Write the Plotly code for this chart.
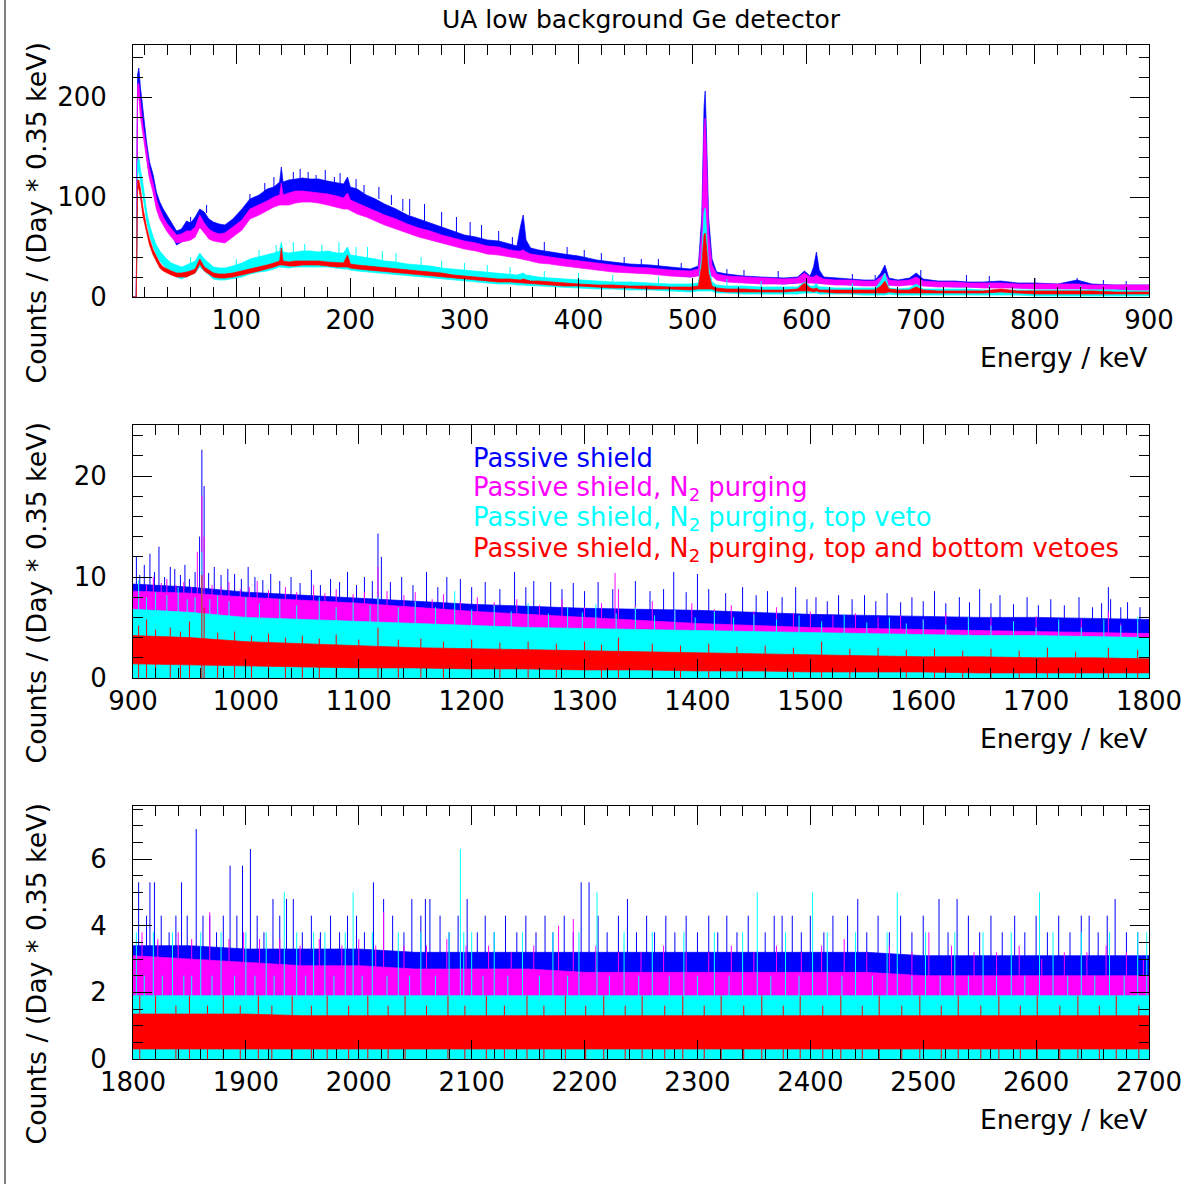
import plotly.graph_objects as go

FONT = "DejaVu Sans"
BLUE, MAGENTA, CYAN, RED = "#0000ff", "#ff00ff", "#00ffff", "#ff0000"

# ---------------- top panel (10 - 900 keV): noise band limits per series ----------------
e_top = [9.5, 12.4, 13.5, 14.6, 16, 18.4, 21.4, 24, 27.2, 30,
         33, 36, 39, 43, 47.7, 52, 56.5, 60, 64, 68,
         72, 76, 80, 85, 90, 97, 105, 112, 120, 127,
         133, 138, 139.5, 141, 146, 152, 158, 165, 172, 180,
         188, 194, 197.5, 200, 206, 214, 222, 230, 240, 250,
         260, 270, 280, 290, 300, 310, 320, 330, 340, 346,
         349, 351.5, 354, 358, 365, 375, 387, 400, 416, 430,
         445, 463, 480, 498, 505, 508, 510, 511, 512, 514,
         517, 521, 530, 545, 560, 580, 592, 598, 603, 606,
         608.5, 611, 615, 625, 638, 650, 660, 665, 668.5, 672,
         680, 690, 696, 702, 715, 730, 741, 755, 770, 785,
         800, 820, 837, 850, 870, 887, 900]

blue_top_lo = [0, 0, 205, 215, 190, 170, 140, 120, 108, 90,
               82, 75, 70, 63, 52, 55, 58, 58, 62, 70,
               65, 60, 58, 56, 57, 62, 70, 80, 85, 88,
               92, 95, 95, 95, 95, 98, 98, 98, 97, 96,
               95, 92, 92, 90, 88, 84, 80, 77, 72, 68,
               64, 60, 57, 54, 50, 48, 45, 44, 42, 41,
               41, 41, 41, 38, 36, 35, 32, 30, 28, 26,
               25, 24, 22, 20, 22, 22, 22, 22, 22, 22,
               22, 18, 16, 15, 14, 13, 14, 15, 15, 14,
               14, 14, 14, 13, 12, 12, 12, 12, 12, 12,
               12, 13, 13, 12, 11, 10, 10, 10, 10, 9,
               9, 9, 9, 8, 8, 7, 7]
blue_top_hi = [0, 0, 222, 229, 210, 185, 155, 135, 122, 105,
               95, 88, 82, 75, 66, 68, 76, 74, 80, 88,
               85, 78, 75, 73, 72, 78, 88, 98, 102, 108,
               110, 115, 130, 115, 117, 118, 119, 118, 118, 116,
               114, 113, 120, 110, 108, 102, 98, 93, 88, 82,
               78, 74, 70, 66, 62, 60, 57, 56, 53, 51,
               70, 82, 57, 49, 47, 45, 43, 41, 37, 35,
               33, 32, 30, 28, 31, 80, 190, 206, 170, 80,
               38, 25, 23, 21, 20, 19, 20, 26, 21, 30,
               45, 27, 20, 19, 18, 17, 17, 24, 32, 19,
               17, 19, 24, 18, 16, 16, 15, 15, 16, 14,
               14, 13, 17, 13, 12, 12, 12]

magenta_top_lo = [0, 0, 200, 200, 180, 160, 138, 118, 104, 88,
                  78, 72, 66, 60, 54, 55, 56, 57, 60, 70,
                  64, 58, 56, 55, 54, 60, 67, 78, 82, 86,
                  90, 92, 92, 92, 92, 94, 95, 95, 94, 92,
                  90, 88, 88, 86, 83, 80, 76, 72, 68, 64,
                  60, 57, 54, 51, 48, 46, 43, 42, 40, 39,
                  38, 38, 37, 36, 34, 33, 31, 29, 27, 25,
                  24, 23, 21, 20, 21, 21, 21, 21, 21, 21,
                  21, 17, 15, 14, 13, 13, 14, 14, 14, 14,
                  14, 14, 13, 12, 12, 11, 11, 11, 11, 12,
                  11, 12, 12, 11, 10, 10, 10, 9, 9, 9,
                  8, 8, 8, 8, 8, 7, 7]
magenta_top_hi = [0, 0, 212, 214, 195, 170, 148, 128, 114, 98,
                  88, 80, 74, 68, 62, 63, 66, 66, 70, 82,
                  74, 68, 65, 63, 64, 70, 77, 88, 92, 96,
                  100, 102, 114, 102, 104, 106, 106, 105, 104, 103,
                  101, 99, 104, 97, 94, 90, 86, 82, 78, 73,
                  69, 66, 62, 59, 56, 54, 51, 50, 47, 46,
                  46, 47, 45, 43, 42, 40, 38, 36, 34, 32,
                  30, 29, 27, 26, 28, 65, 168, 179, 148, 65,
                  32, 23, 21, 20, 19, 18, 19, 24, 20, 20,
                  22, 20, 18, 17, 17, 16, 16, 20, 24, 17,
                  16, 17, 20, 16, 15, 15, 14, 14, 14, 13,
                  13, 13, 13, 12, 12, 12, 12]

cyan_top_lo = [0, 0, 120, 128, 115, 100, 76, 62, 50, 42,
               36, 32, 28, 24, 20, 18, 20, 22, 24, 30,
               26, 22, 18, 17, 17, 18, 20, 23, 25, 26,
               28, 30, 30, 30, 29, 30, 30, 30, 30, 30,
               29, 28, 28, 27, 26, 25, 24, 23, 22, 21,
               20, 19, 18, 17, 16, 15, 14, 13, 13, 12,
               12, 12, 12, 12, 11, 11, 10, 9, 8, 8,
               7, 7, 6, 5, 6, 6, 6, 6, 6, 6,
               6, 4, 4, 3, 3, 3, 3, 4, 4, 4,
               4, 3, 3, 3, 3, 2, 2, 2, 2, 3,
               2, 2, 2, 2, 2, 2, 2, 2, 2, 2,
               1, 1, 1, 1, 1, 1, 1]
cyan_top_hi = [0, 0, 135, 140, 128, 112, 86, 72, 60, 52,
               46, 42, 38, 34, 32, 30, 32, 34, 36, 44,
               38, 34, 30, 29, 29, 31, 34, 38, 40, 42,
               44, 46, 55, 45, 44, 45, 46, 46, 45, 46,
               44, 44, 50, 42, 41, 39, 38, 36, 35, 33,
               32, 31, 29, 28, 27, 26, 25, 24, 23, 22,
               23, 24, 22, 21, 20, 19, 18, 17, 16, 15,
               15, 14, 13, 13, 14, 40, 85, 89, 70, 32,
               15, 12, 11, 11, 10, 10, 10, 15, 11, 11,
               13, 10, 10, 9, 9, 9, 9, 16, 24, 9,
               8, 9, 13, 8, 8, 8, 8, 7, 7, 7,
               7, 7, 7, 7, 7, 6, 6]

red_top_lo = [0, 0, 110, 108, 100, 80, 64, 52, 42, 35,
              29, 26, 24, 22, 20, 20, 20, 22, 24, 33,
              26, 23, 20, 19, 19, 20, 22, 24, 26, 28,
              30, 32, 32, 32, 31, 31, 32, 32, 32, 31,
              30, 30, 30, 29, 28, 27, 26, 25, 24, 23,
              22, 21, 20, 19, 18, 17, 16, 15, 15, 14,
              14, 14, 14, 13, 13, 12, 11, 11, 10, 9,
              9, 8, 8, 7, 8, 8, 8, 8, 8, 8,
              8, 6, 5, 5, 5, 5, 6, 6, 6, 5,
              6, 5, 5, 4, 4, 4, 4, 4, 4, 5,
              4, 4, 4, 4, 4, 4, 4, 4, 5, 4,
              3, 3, 3, 3, 3, 3, 3]
red_top_hi = [0, 0, 117, 117, 108, 88, 70, 58, 47, 40,
              34, 30, 28, 26, 24, 24, 25, 26, 28, 38,
              30, 27, 24, 23, 23, 24, 26, 28, 30, 32,
              34, 36, 49, 36, 35, 36, 36, 36, 36, 35,
              34, 34, 42, 33, 32, 31, 30, 29, 28, 27,
              26, 25, 24, 22, 21, 20, 19, 18, 18, 17,
              17, 18, 17, 16, 16, 15, 14, 13, 12, 12,
              11, 11, 10, 10, 11, 32, 62, 64, 52, 24,
              11, 9, 8, 8, 7, 7, 8, 14, 9, 8,
              9, 7, 7, 7, 7, 7, 7, 11, 16, 8,
              7, 7, 10, 7, 6, 6, 6, 6, 8, 6,
              6, 6, 6, 6, 5, 5, 5]

# single-bin fluctuations sticking out of the top-panel bands: energy, from, to
blue_top_spk_e = [60, 74, 112, 125, 133, 150, 156, 163, 170, 178, 186, 191, 205, 212, 225, 236, 246,
                  252, 265, 280, 293, 305, 315, 330, 342, 370, 390, 405, 420, 440, 455, 470, 490,
                  530, 545, 575, 640, 660, 700, 740, 760, 800, 837, 860, 880]
blue_top_spk_a = [70, 84, 94, 104, 108, 116, 117, 117, 117, 116, 114, 113, 108, 104, 98, 92, 86,
                  82, 76, 70, 64, 60, 57, 55, 52, 44, 41, 39, 36, 33, 32, 31, 28,
                  23, 21, 19, 17, 17, 16, 15, 15, 14, 13, 12, 12]
blue_top_spk_b = [80, 92, 103, 114, 120, 125, 128, 125, 122, 127, 120, 124, 118, 112, 110, 102, 98,
                  98, 93, 85, 80, 75, 72, 66, 60, 55, 50, 47, 44, 40, 38, 38, 34,
                  28, 27, 26, 23, 22, 27, 22, 21, 19, 19, 17, 16]
cyan_top_spk_e = [60, 100, 120, 135, 150, 160, 175, 190, 205, 215, 228, 240, 262, 280, 300, 320, 340,
                  370, 400, 430, 470, 530, 560, 600, 640, 700, 760, 840, 880]
cyan_top_spk_a = [33, 30, 40, 44, 45, 46, 45, 44, 41, 39, 37, 35, 31, 28, 27, 25, 23,
                  19, 17, 15, 13, 11, 10, 10, 9, 8, 7, 7, 6]
cyan_top_spk_b = [40, 38, 47, 52, 55, 53, 52, 55, 50, 50, 46, 44, 40, 36, 34, 32, 30,
                  26, 24, 22, 20, 18, 16, 16, 14, 16, 12, 11, 10]

# ---------------- middle panel (900 - 1800 keV) ----------------
e_mid = [900, 950, 1000, 1050, 1100, 1150, 1200, 1250, 1300, 1350,
         1400, 1450, 1500, 1550, 1600, 1650, 1700, 1750, 1800]
blue_mid_lo = [4.5, 4.5, 4.3, 4.1, 4.0, 3.8, 3.6, 3.5, 3.4, 3.3, 3.2, 3.1, 3.0, 2.9, 2.8, 2.7, 2.6, 2.5, 2.5]
blue_mid_hi = [9.3, 9.0, 8.5, 8.2, 7.9, 7.6, 7.3, 7.1, 6.9, 6.8, 6.7, 6.5, 6.3, 6.2, 6.1, 6.0, 6.0, 5.9, 5.8]
magenta_mid_lo = [5.0, 5.0, 4.6, 4.4, 4.2, 3.8, 3.5, 3.3, 3.1, 2.9, 2.8, 2.6, 2.5, 2.4, 2.3, 2.2, 2.1, 2.0, 2.0]
magenta_mid_hi = [8.6, 8.4, 8.0, 7.7, 7.4, 7.0, 6.6, 6.3, 6.0, 5.7, 5.4, 5.2, 5.0, 4.9, 4.8, 4.7, 4.6, 4.5, 4.4]
cyan_mid_lo = [0, 0, 0, 0, 0, 0, 0, 0, 0, 0, 0, 0, 0, 0, 0, 0, 0, 0, 0]
cyan_mid_hi = [6.8, 6.5, 6.0, 5.8, 5.6, 5.4, 5.2, 5.0, 4.9, 4.8, 4.7, 4.6, 4.5, 4.4, 4.3, 4.2, 4.2, 4.1, 4.0]
red_mid_lo = [1.4, 1.3, 1.2, 1.1, 1.0, 1.0, 0.9, 0.9, 0.8, 0.8, 0.7, 0.7, 0.6, 0.6, 0.6, 0.5, 0.5, 0.5, 0.5]
red_mid_hi = [4.2, 4.0, 3.6, 3.4, 3.2, 3.0, 2.9, 2.8, 2.7, 2.6, 2.5, 2.4, 2.3, 2.2, 2.1, 2.1, 2.0, 2.0, 1.9]

blue_mid_spk_e = [903, 906, 910, 915, 919, 923, 928, 933, 937, 942, 946, 950, 955, 959, 961, 963, 967, 972,
                  978, 984, 990, 996, 1002, 1008, 1015, 1022, 1030, 1040, 1048, 1058, 1066, 1075, 1083,
                  1090, 1098, 1105, 1112, 1117, 1120, 1128, 1138, 1148, 1160, 1170, 1178, 1190, 1200,
                  1212, 1225, 1238, 1248, 1255, 1270, 1280, 1290, 1300, 1312, 1325, 1345, 1358, 1370,
                  1379, 1390, 1400, 1410, 1425, 1440, 1452, 1462, 1475, 1487, 1497, 1505, 1515, 1525,
                  1537, 1548, 1558, 1568, 1580, 1590, 1600, 1610, 1620, 1632, 1641, 1650, 1660, 1668,
                  1680, 1692, 1702, 1713, 1725, 1738, 1750, 1758, 1764, 1766, 1775, 1781, 1792]
blue_mid_spk_v = [12.0, 10.2, 11.2, 12.3, 10.5, 13.0, 10.0, 11.0, 10.8, 10.2, 11.2, 9.8, 10.5, 14.0, 22.6, 19.0, 10.4, 11.0,
                  10.2, 10.8, 10.3, 9.8, 11.0, 10.0, 9.7, 10.3, 9.6, 10.0, 9.4, 10.7, 9.2, 9.8, 9.5,
                  10.5, 9.2, 10.0, 9.6, 14.3, 12.0, 9.5, 10.0, 9.2, 10.5, 9.0, 10.0, 9.8, 9.0,
                  9.5, 8.8, 10.5, 9.0, 9.6, 9.5, 8.8, 9.4, 8.6, 9.5, 8.8, 9.6, 8.6, 8.8,
                  10.5, 8.5, 10.3, 8.8, 8.4, 9.0, 8.2, 8.6, 8.0, 9.0, 7.8, 8.0, 7.6, 8.2,
                  7.8, 8.2, 7.6, 8.4, 7.5, 8.0, 7.6, 8.6, 7.4, 8.0, 7.5, 8.8, 7.4, 8.2,
                  7.3, 8.0, 7.2, 7.8, 7.2, 8.0, 7.0, 7.4, 9.0, 7.8, 7.0, 7.5, 7.0]
magenta_mid_spk_e = [905, 912, 918, 925, 930, 938, 945, 952, 957, 961, 963, 970, 978, 985, 995, 1003, 1010,
                     1020, 1035, 1045, 1060, 1070, 1080, 1095, 1105, 1117, 1125, 1140, 1150, 1165, 1175,
                     1190, 1205, 1220, 1240, 1260, 1280, 1300, 1315, 1327, 1330, 1345, 1360, 1380, 1395,
                     1415, 1430, 1450, 1470, 1485, 1500, 1520, 1540, 1560, 1580, 1600, 1620, 1640, 1660,
                     1680, 1700, 1720, 1740, 1764, 1775, 1790]
magenta_mid_spk_v = [9.6, 9.2, 10.0, 9.4, 9.8, 9.2, 9.5, 9.0, 12.5, 18.0, 14.0, 9.2, 9.0, 9.5, 8.8, 9.0, 9.6,
                     8.7, 9.0, 8.5, 9.2, 8.4, 8.8, 8.3, 8.5, 11.0, 8.6, 8.2, 8.5, 7.8, 8.3,
                     7.6, 8.0, 7.5, 7.8, 7.2, 7.8, 7.0, 7.4, 10.4, 8.8, 7.2, 7.6, 6.8, 7.4,
                     6.8, 7.2, 6.6, 7.0, 6.4, 6.6, 6.2, 6.4, 6.0, 6.2, 5.8, 6.4, 5.8, 6.0,
                     5.6, 6.1, 5.5, 5.8, 6.6, 5.4, 5.6]
cyan_mid_spk_e = [905, 912, 920, 930, 940, 948, 955, 961, 968, 975, 985, 1000, 1012, 1030, 1045, 1065, 1080,
                  1095, 1110, 1117, 1135, 1150, 1168, 1185, 1200, 1220, 1235, 1250, 1268, 1285, 1298,
                  1310, 1328, 1345, 1362, 1380, 1398, 1415, 1432, 1450, 1470, 1490, 1510, 1530, 1550,
                  1570, 1585, 1600, 1620, 1640, 1660, 1680, 1700, 1720, 1740, 1760, 1775, 1790]
cyan_mid_spk_v = [9.7, 8.0, 8.5, 8.2, 9.0, 7.8, 8.0, 12.5, 7.8, 8.2, 7.6, 8.0, 7.4, 7.8, 7.2, 8.0, 7.0,
                  7.5, 7.2, 8.0, 7.0, 7.6, 7.0, 8.6, 6.8, 7.2, 6.6, 7.4, 6.4, 7.0, 6.5,
                  7.3, 6.4, 7.0, 6.2, 6.8, 6.0, 6.6, 6.0, 6.3, 5.8, 6.2, 5.6, 6.3, 5.5,
                  6.0, 5.4, 5.8, 5.3, 6.0, 5.2, 5.6, 5.0, 5.8, 5.0, 5.8, 5.2, 6.0]
red_mid_spk_e = [905, 912, 920, 933, 942, 950, 961, 963, 975, 990, 1005, 1020, 1035, 1050, 1065, 1080, 1100,
                 1117, 1135, 1155, 1175, 1200, 1225, 1250, 1275, 1300, 1315, 1330, 1360, 1385, 1410,
                 1435, 1460, 1485, 1510, 1535, 1560, 1585, 1610, 1635, 1660, 1685, 1710, 1735, 1764, 1790]
red_mid_spk_v = [5.2, 5.8, 4.8, 5.0, 4.6, 5.6, 10.2, 7.0, 4.5, 4.6, 4.2, 4.4, 4.0, 4.2, 3.9, 4.3, 3.8,
                 5.0, 3.8, 3.9, 3.6, 3.8, 3.5, 3.6, 3.4, 3.6, 3.3, 4.0, 3.4, 3.2, 3.4,
                 3.1, 3.2, 3.0, 3.6, 2.9, 3.0, 2.8, 2.9, 2.7, 2.9, 2.7, 3.0, 2.6, 3.0, 2.8]

# ---------------- bottom panel (1800 - 2700 keV) ----------------
e_bot = [1800, 1850, 1900, 1950, 2000, 2050, 2100, 2150, 2200, 2250,
         2300, 2350, 2400, 2450, 2500, 2550, 2600, 2650, 2700]
blue_bot_lo = [1.6, 1.6, 1.6, 1.6, 1.6, 1.6, 1.6, 1.6, 1.6, 1.6, 1.6, 1.6, 1.6, 1.6, 1.5, 1.5, 1.5, 1.5, 1.5]
blue_bot_hi = [3.4, 3.4, 3.3, 3.3, 3.3, 3.2, 3.2, 3.2, 3.2, 3.2, 3.2, 3.2, 3.2, 3.2, 3.1, 3.1, 3.1, 3.1, 3.1]
magenta_bot_lo = [1.3, 1.3, 1.3, 1.3, 1.3, 1.3, 1.3, 1.3, 1.3, 1.3, 1.3, 1.3, 1.3, 1.3, 1.3, 1.3, 1.3, 1.3, 1.3]
magenta_bot_hi = [3.1, 3.0, 2.9, 2.8, 2.8, 2.7, 2.7, 2.7, 2.6, 2.6, 2.6, 2.6, 2.6, 2.6, 2.5, 2.5, 2.5, 2.5, 2.5]
cyan_bot_lo = [0, 0, 0, 0, 0, 0, 0, 0, 0, 0, 0, 0, 0, 0, 0, 0, 0, 0, 0]
cyan_bot_hi = [1.9, 1.9, 1.9, 1.9, 1.9, 1.9, 1.9, 1.9, 1.9, 1.9, 1.9, 1.9, 1.9, 1.9, 1.9, 1.9, 1.9, 1.9, 1.9]
red_bot_lo = [0.3, 0.3, 0.3, 0.3, 0.3, 0.3, 0.3, 0.3, 0.3, 0.3, 0.3, 0.3, 0.3, 0.3, 0.3, 0.3, 0.3, 0.3, 0.3]
red_bot_hi = [1.35, 1.35, 1.35, 1.3, 1.3, 1.3, 1.3, 1.3, 1.3, 1.3, 1.3, 1.3, 1.3, 1.3, 1.3, 1.3, 1.3, 1.3, 1.3]

blue_bot_spk_e = [1805, 1812, 1815, 1819, 1825, 1832, 1838, 1843, 1848, 1856, 1862, 1868, 1874, 1880, 1886,
                  1892, 1897, 1904, 1910, 1916, 1924, 1930, 1936, 1942, 1950, 1958, 1966, 1975, 1983,
                  1990, 1998, 2005, 2013, 2022, 2030, 2040, 2047, 2055, 2059, 2063, 2072, 2080, 2088,
                  2096, 2105, 2112, 2120, 2130, 2140, 2148, 2157, 2165, 2172, 2182, 2190, 2197, 2204,
                  2212, 2220, 2230, 2238, 2246, 2255, 2262, 2272, 2280, 2290, 2300, 2310, 2318, 2326,
                  2335, 2345, 2360, 2368, 2375, 2384, 2392, 2400, 2412, 2420, 2433, 2442, 2450, 2460,
                  2470, 2480, 2490, 2500, 2514, 2522, 2530, 2540, 2550, 2560, 2570, 2581, 2590, 2600,
                  2610, 2620, 2630, 2640, 2647, 2655, 2663, 2670, 2680, 2690]
blue_bot_spk_v = [5.3, 4.3, 5.3, 5.3, 4.3, 3.8, 4.3, 5.3, 4.3, 6.9, 4.3, 4.3, 3.8, 4.3, 5.8,
                  4.3, 5.8, 6.3, 4.3, 3.8, 4.8, 4.3, 4.8, 4.8, 3.8, 4.3, 3.8, 4.3, 3.8,
                  4.3, 4.3, 3.8, 5.3, 4.8, 4.3, 3.8, 4.8, 4.3, 4.8, 4.8, 4.3, 3.8, 4.3,
                  4.8, 3.8, 4.3, 3.8, 4.3, 3.8, 4.3, 3.8, 4.3, 3.8, 4.3, 3.8, 5.3, 5.3,
                  4.3, 3.8, 4.3, 4.8, 3.8, 4.3, 3.8, 4.3, 3.8, 4.3, 3.8, 4.3, 3.8, 4.3,
                  3.8, 4.3, 3.8, 4.3, 4.3, 4.3, 3.8, 4.3, 3.8, 4.3, 4.3, 4.8, 3.8, 4.3,
                  3.8, 4.3, 3.8, 4.3, 4.8, 3.8, 4.8, 4.3, 3.8, 4.3, 3.8, 4.3, 3.8, 4.3,
                  3.8, 4.3, 3.8, 4.3, 4.3, 3.8, 4.3, 4.8, 3.8, 3.8]
magenta_bot_spk_e = [1808, 1822, 1840, 1852, 1868, 1885, 1898, 1912, 1930, 1948, 1965, 1985, 2000, 2015,
                     2022, 2040, 2060, 2078, 2095, 2115, 2135, 2155, 2177, 2190, 2210, 2230, 2250, 2270,
                     2290, 2310, 2330, 2350, 2370, 2392, 2410, 2430, 2450, 2470, 2490, 2505, 2525, 2545,
                     2565, 2585, 2605, 2625, 2645, 2662, 2680, 2695]
magenta_bot_spk_v = [3.8, 3.6, 3.8, 3.6, 4.4, 3.6, 3.8, 3.6, 3.6, 3.4, 3.6, 3.4, 3.6, 3.4,
                     4.4, 3.4, 3.4, 3.6, 3.4, 3.4, 3.2, 3.4, 4.0, 4.2, 3.4, 3.2, 3.2, 3.4,
                     3.2, 3.2, 3.4, 3.2, 3.4, 3.2, 3.4, 3.6, 3.2, 3.4, 3.2, 3.8, 3.4, 3.2,
                     3.2, 3.4, 3.0, 3.2, 3.2, 3.4, 3.2, 3.0]
cyan_bot_spk_e = [1803, 1810, 1818, 1826, 1835, 1845, 1852, 1860, 1870, 1878, 1890, 1900, 1908, 1918,
                  1925, 1934, 1945, 1953, 1960, 1970, 1978, 1988, 1995, 2003, 2012, 2025, 2035, 2045,
                  2055, 2068, 2080, 2090, 2093, 2100, 2110, 2120, 2132, 2145, 2160, 2172, 2185, 2195,
                  2211, 2222, 2235, 2248, 2260, 2275, 2288, 2300, 2315, 2328, 2340, 2353, 2365, 2378,
                  2390, 2402, 2415, 2428, 2440, 2455, 2468, 2477, 2490, 2502, 2515, 2528, 2540, 2553,
                  2565, 2578, 2590, 2603, 2615, 2628, 2640, 2652, 2665, 2678, 2690, 2698]
cyan_bot_spk_v = [3.8, 2.5, 3.8, 2.5, 3.8, 2.5, 2.5, 3.8, 2.5, 3.8, 2.5, 3.8, 2.5, 3.8,
                  2.5, 5.0, 3.8, 2.5, 3.8, 3.8, 2.5, 3.8, 5.0, 2.5, 3.8, 2.5, 3.8, 2.5,
                  3.8, 2.5, 3.8, 6.3, 3.8, 3.8, 2.5, 3.8, 2.5, 3.8, 2.5, 3.8, 2.5, 3.8,
                  5.0, 2.5, 3.8, 2.5, 3.8, 2.5, 3.8, 2.5, 3.8, 2.5, 3.8, 5.0, 2.5, 3.8,
                  2.5, 5.0, 3.8, 2.5, 3.8, 2.5, 3.8, 5.0, 2.5, 3.8, 2.5, 3.8, 2.5, 3.8,
                  2.5, 3.8, 2.5, 5.0, 3.8, 2.5, 3.8, 2.5, 3.8, 2.5, 3.8, 3.8]
red_bot_spk_e = [1806, 1820, 1838, 1850, 1866, 1880, 1895, 1911, 1923, 1941, 1958, 1972, 1991, 2008,
                 2026, 2041, 2060, 2079, 2094, 2113, 2129, 2149, 2164, 2183, 2201, 2217, 2236, 2251,
                 2271, 2287, 2306, 2321, 2341, 2357, 2376, 2391, 2411, 2427, 2446, 2461, 2481, 2497,
                 2516, 2531, 2551, 2567, 2586, 2601, 2621, 2637, 2656, 2671, 2691]
red_bot_spk_v = [1.9, 1.9, 1.6, 1.9, 1.6, 1.9, 1.6, 1.9, 1.6, 1.9, 1.6, 1.9, 1.6, 1.9,
                 1.6, 1.9, 1.6, 1.9, 1.6, 1.9, 1.6, 1.9, 1.6, 1.9, 1.6, 1.9, 1.6, 1.9,
                 1.6, 1.9, 1.6, 1.9, 1.6, 1.9, 1.6, 1.9, 1.6, 1.9, 1.6, 1.9, 1.6, 1.9,
                 1.6, 1.9, 1.6, 1.9, 1.6, 1.9, 1.6, 1.9, 1.6, 1.9, 1.6]

legend_labels = ["Passive shield",
                 "Passive shield, N<sub>2</sub> purging",
                 "Passive shield, N<sub>2</sub> purging, top veto",
                 "Passive shield, N<sub>2</sub> purging, top and bottom vetoes"]
legend_colors = [BLUE, MAGENTA, CYAN, RED]

# ---------------- figure ----------------
W, H = 1188, 1184
X0, X1 = 133, 1149
PANELS = [(45, 297), (425, 678), (806, 1059)]
SUF = ["", "2", "3"]

fig = go.Figure()


def band(e, lo, hi, color, s):
    xs = list(e) + list(e)[::-1]
    ys = list(hi) + list(lo)[::-1]
    fig.add_trace(go.Scatter(x=xs, y=ys, fill="toself", fillcolor=color, mode="lines",
                             line=dict(color=color, width=0.7), hoverinfo="skip",
                             xaxis="x" + s, yaxis="y" + s))


def segments(e, a, b, color, s):
    xs, ys = [], []
    for x, y0, y1 in zip(e, a, b):
        xs += [x, x, None]
        ys += [y0, y1, None]
    fig.add_trace(go.Scatter(x=xs, y=ys, mode="lines", line=dict(color=color, width=1),
                             hoverinfo="skip", xaxis="x" + s, yaxis="y" + s))


def spikes(e, v, color, s):
    segments(e, [0] * len(e), v, color, s)


band(e_top, blue_top_lo, blue_top_hi, BLUE, "")
segments(blue_top_spk_e, blue_top_spk_a, blue_top_spk_b, BLUE, "")
band(e_top, magenta_top_lo, magenta_top_hi, MAGENTA, "")
band(e_top, cyan_top_lo, cyan_top_hi, CYAN, "")
segments(cyan_top_spk_e, cyan_top_spk_a, cyan_top_spk_b, CYAN, "")
band(e_top, red_top_lo, red_top_hi, RED, "")

band(e_mid, blue_mid_lo, blue_mid_hi, BLUE, "2")
spikes(blue_mid_spk_e, blue_mid_spk_v, BLUE, "2")
band(e_mid, magenta_mid_lo, magenta_mid_hi, MAGENTA, "2")
spikes(magenta_mid_spk_e, magenta_mid_spk_v, MAGENTA, "2")
band(e_mid, cyan_mid_lo, cyan_mid_hi, CYAN, "2")
spikes(cyan_mid_spk_e, cyan_mid_spk_v, CYAN, "2")
band(e_mid, red_mid_lo, red_mid_hi, RED, "2")
spikes(red_mid_spk_e, red_mid_spk_v, RED, "2")

band(e_bot, blue_bot_lo, blue_bot_hi, BLUE, "3")
spikes(blue_bot_spk_e, blue_bot_spk_v, BLUE, "3")
band(e_bot, magenta_bot_lo, magenta_bot_hi, MAGENTA, "3")
spikes(magenta_bot_spk_e, magenta_bot_spk_v, MAGENTA, "3")
band(e_bot, cyan_bot_lo, cyan_bot_hi, CYAN, "3")
spikes(cyan_bot_spk_e, cyan_bot_spk_v, CYAN, "3")
band(e_bot, red_bot_lo, red_bot_hi, RED, "3")
spikes(red_bot_spk_e, red_bot_spk_v, RED, "3")

x_ranges = [[9.5, 900], [900, 1800], [1800, 2700]]
y_ranges = [[0, 252], [0, 25.05], [0, 7.59]]
y_dticks = [100, 10, 2]
y_minor = [20, 2, 0.5]

layout = dict(width=W, height=H, autosize=False,
              margin=dict(l=0, r=0, t=0, b=0, pad=0, autoexpand=False),
              paper_bgcolor="white", plot_bgcolor="white", showlegend=False,
              font=dict(family=FONT, size=25, color="black"))
for i, s in enumerate(SUF):
    top, bot = PANELS[i]
    common = dict(ticks="inside", ticklen=19, tickwidth=1, tickcolor="black",
                  showline=True, linewidth=1, linecolor="black", mirror="ticks",
                  showgrid=False, zeroline=False, automargin=False,
                  tickfont=dict(family=FONT, size=26, color="black"))
    layout["xaxis" + s] = dict(domain=[X0 / W, X1 / W], anchor="y" + s, range=x_ranges[i],
                               tick0=0, dtick=100, ticklabelstandoff=0,
                               minor=dict(tick0=0, dtick=20, ticks="inside", ticklen=10,
                                          tickwidth=1, tickcolor="black", showgrid=False),
                               **common)
    layout["yaxis" + s] = dict(domain=[1 - bot / H, 1 - top / H], anchor="x" + s, range=y_ranges[i],
                               tick0=0, dtick=y_dticks[i], ticklabelstandoff=20,
                               minor=dict(tick0=0, dtick=y_minor[i], ticks="inside", ticklen=10,
                                          tickwidth=1, tickcolor="black", showgrid=False),
                               **common)

annotations = [dict(text="UA low background Ge detector", x=641 / W, y=1 - 20 / H, xref="paper", yref="paper",
                    xanchor="center", yanchor="middle", showarrow=False, font=dict(family=FONT, size=25))]
for i in range(3):
    top, bot = PANELS[i]
    annotations.append(dict(text="Energy / keV", x=X1 / W, y=1 - (bot + 60) / H, xref="paper", yref="paper",
                            xanchor="right", yanchor="middle", showarrow=False,
                            font=dict(family=FONT, size=26.5)))
    annotations.append(dict(text="Counts / (Day * 0.35 keV)", x=36 / W, y=1 - (top - 4) / H,
                            xref="paper", yref="paper", xanchor="center", yanchor="top", textangle=-90,
                            showarrow=False, font=dict(family=FONT, size=26.8)))
for j, (lab, col) in enumerate(zip(legend_labels, legend_colors)):
    annotations.append(dict(text=lab, x=471 / W, y=1 - (458 + 30.5 * j) / H, xref="paper", yref="paper",
                            xanchor="left", yanchor="middle", showarrow=False,
                            font=dict(family=FONT, size=25.8, color=col)))
layout["annotations"] = annotations
layout["shapes"] = [dict(type="line", xref="paper", yref="paper", x0=5 / W, x1=5 / W, y0=0, y1=1,
                         line=dict(color="#555555", width=1.5))]

fig.update_layout(**layout)
fig.write_html("out.html", config={"displayModeBar": False},
               post_script="document.body.style.margin='0';document.body.style.overflow='hidden';")
